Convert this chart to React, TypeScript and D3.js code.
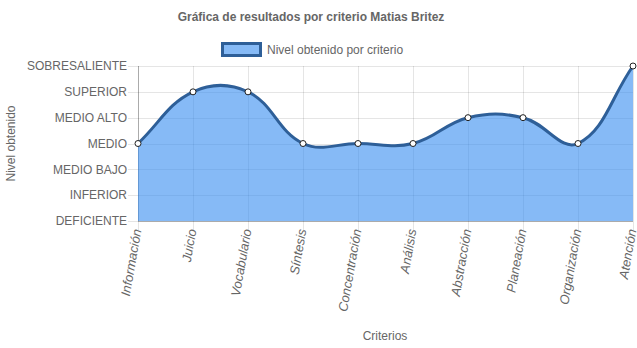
import React from "react";
import * as d3 from "d3";

const levels = ["DEFICIENTE", "INFERIOR", "MEDIO BAJO", "MEDIO", "MEDIO ALTO", "SUPERIOR", "SOBRESALIENTE"];
const categories = ["Información", "Juicio", "Vocabulario", "Síntesis", "Concentración", "Análisis", "Abstracción", "Planeación", "Organización", "Atención"];
const values = ["MEDIO", "SUPERIOR", "SUPERIOR", "MEDIO", "MEDIO", "MEDIO", "MEDIO ALTO", "MEDIO ALTO", "MEDIO", "SOBRESALIENTE"];

const W = 637, H = 348;
const left = 138, right = 633, top = 66, bottom = 221;
const font = "'Liberation Sans', Arial, Helvetica, sans-serif";
const txt = "#666";
const grid = "rgba(0,0,0,0.1)";
const lineColor = "#2e5f98";
const fillColor = "rgba(54,140,240,0.6)";

function splinePath(pts: [number, number][], t: number, closeY?: number) {
  const n = pts.length;
  const cps = pts.map((cur, i) => {
    const prev = i > 0 ? pts[i - 1] : cur;
    const next = i < n - 1 ? pts[i + 1] : cur;
    const d01 = Math.hypot(cur[0] - prev[0], cur[1] - prev[1]);
    const d12 = Math.hypot(next[0] - cur[0], next[1] - cur[1]);
    let s01 = d01 / (d01 + d12);
    let s12 = d12 / (d01 + d12);
    if (isNaN(s01)) s01 = 0;
    if (isNaN(s12)) s12 = 0;
    const fa = t * s01, fb = t * s12;
    const clampX = (v: number) => Math.max(left, Math.min(right, v));
    const clampY = (v: number) => Math.max(top, Math.min(bottom, v));
    return {
      p: [clampX(cur[0] - fa * (next[0] - prev[0])), clampY(cur[1] - fa * (next[1] - prev[1]))],
      n: [clampX(cur[0] + fb * (next[0] - prev[0])), clampY(cur[1] + fb * (next[1] - prev[1]))],
    };
  });
  const path = d3.path();
  path.moveTo(pts[0][0], pts[0][1]);
  for (let i = 1; i < n; i++) {
    path.bezierCurveTo(cps[i - 1].n[0], cps[i - 1].n[1], cps[i].p[0], cps[i].p[1], pts[i][0], pts[i][1]);
  }
  if (closeY !== undefined) {
    path.lineTo(pts[n - 1][0], closeY);
    path.lineTo(pts[0][0], closeY);
    path.closePath();
  }
  return path.toString();
}

export default function App() {
  const x = d3.scalePoint<string>().domain(categories).range([left, right]);
  const y = d3.scaleLinear().domain([0, levels.length - 1]).range([bottom, top]);
  const pts: [number, number][] = categories.map((c, i) => [x(c) as number, y(levels.indexOf(values[i]))]);
  const linePath = splinePath(pts, 0.4);
  const areaPath = splinePath(pts, 0.4, bottom);

  return (
    <svg width={W} height={H} style={{ position: "absolute", left: 0, top: 0 }} fontFamily={font}>
      <rect width={W} height={H} fill="#fff" />
      <text x={311} y={21} textAnchor="middle" fontSize={12} fontWeight="bold" fill={txt}>
        Gráfica de resultados por criterio Matias Britez
      </text>
      {/* legend */}
      <rect x={222.5} y={43.5} width={38} height={12} fill={fillColor} stroke={lineColor} strokeWidth={3} />
      <text x={267} y={54} fontSize={12} fill={txt}>Nivel obtenido por criterio</text>

      {/* grid lines */}
      {levels.map((l, i) => (
        <line key={l} x1={128} x2={right} y1={Math.round(y(i)) + 0.5} y2={Math.round(y(i)) + 0.5} stroke={grid} />
      ))}
      {categories.map((c) => (
        <line key={c} x1={Math.round(x(c) as number) + 0.5} x2={Math.round(x(c) as number) + 0.5} y1={top} y2={bottom + 9} stroke={grid} />
      ))}
      <line x1={left + 0.5} x2={left + 0.5} y1={top} y2={bottom} stroke="rgba(0,0,0,0.25)" />
      <line x1={left} x2={right} y1={bottom + 0.5} y2={bottom + 0.5} stroke="rgba(0,0,0,0.25)" />

      {/* area and line */}
      <path d={areaPath} fill={fillColor} />
      <path d={linePath} fill="none" stroke={lineColor} strokeWidth={3} />
      {pts.map((p, i) => (
        <circle key={i} cx={p[0]} cy={p[1]} r={3} fill="#fff" stroke="#222" strokeWidth={1} />
      ))}

      {/* y labels */}
      {levels.map((l, i) => (
        <text key={l} x={127} y={y(i)} dy="0.35em" textAnchor="end" fontSize={12} fill={txt}>{l}</text>
      ))}
      {/* x labels */}
      {categories.map((c) => (
        <text
          key={c}
          transform={`translate(${(x(c) as number) - 1},${bottom + 8}) rotate(-80)`}
          textAnchor="end"
          dy="0.35em"
          fontSize={13}
          fontStyle="italic"
          fill={txt}
        >
          {c}
        </text>
      ))}
      {/* axis titles */}
      <text transform={`translate(15,${(top + bottom) / 2}) rotate(-90)`} textAnchor="middle" fontSize={12} fill={txt}>
        Nivel obtenido
      </text>
      <text x={385} y={340} textAnchor="middle" fontSize={12} fill={txt}>Criterios</text>
    </svg>
  );
}
